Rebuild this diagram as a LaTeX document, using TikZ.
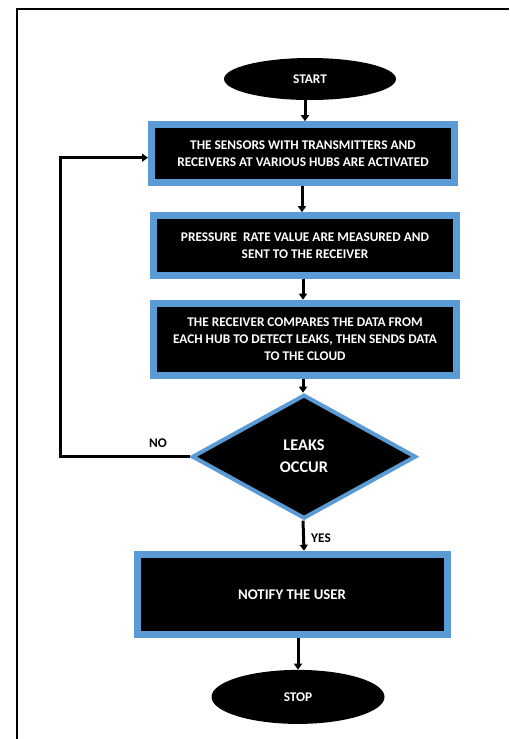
\documentclass[tikz,border=0pt]{standalone}
\usepackage{fontspec}
\setmainfont{Carlito}
\usetikzlibrary{arrows.meta, positioning, shapes.geometric}
\definecolor{hubblue}{RGB}{91,155,213}

\begin{document}
\begin{tikzpicture}[
    x=1pt, y=-1pt,
    font=\fontsize{13.3}{17}\selectfont\bfseries,
    node distance=21pt,
    proc/.style={draw=hubblue, line width=7pt, fill=black, text=white, align=center, minimum width=303pt, inner sep=0pt},
    term/.style={ellipse, fill=black, text=white, inner sep=0pt},
    decide/.style={diamond, draw=hubblue, line width=4pt, fill=black, text=white, align=center, minimum width=224pt, minimum height=124pt, inner sep=0pt},
    arrow/.style={-{Triangle[length=6pt, width=8pt]}, line width=3pt},
    lbl/.style={text=black}
]
  \useasboundingbox (0,0) rectangle (509,739);
  \draw[line width=1.6pt] (17,739) |- (509,9);

  \node[term, minimum width=172pt, minimum height=42pt] (start) at (310,79) {START};
  \node[proc, minimum height=58pt, below=21pt of start, xshift=-7pt] (sensors) {THE SENSORS WITH TRANSMITTERS AND\\RECEIVERS AT VARIOUS HUBS ARE ACTIVATED};
  \node[proc, minimum height=59.5pt, below=26pt of sensors, xshift=2pt] (measure) {PRESSURE\ \ RATE VALUE ARE MEASURED AND\\SENT TO THE RECEIVER};
  \node[proc, minimum height=72pt, below=21pt of measure] (compare) {THE RECEIVER COMPARES THE DATA FROM\\EACH HUB TO DETECT LEAKS, THEN SENDS DATA\\TO THE CLOUD};
  \node[decide, below=14pt of compare, xshift=-1pt, font=\fontsize{16.3}{22}\selectfont\bfseries] (leaks) {LEAKS\\OCCUR};
  \node[proc, minimum width=310pt, minimum height=80pt, below=30pt of leaks, xshift=-12pt, font=\fontsize{14.8}{17}\selectfont\bfseries] (notify) {NOTIFY THE USER};
  \node[term, minimum width=173pt, minimum height=54pt, below=32pt of notify, xshift=6pt] (stop) {STOP};

  \coordinate (back) at (60,0);

  \draw[arrow] ([xshift=-5pt]start.south) -- ([xshift=2pt]sensors.north);
  \draw[arrow] ([xshift=-1pt]sensors.south) -- ([xshift=-3pt]measure.north);
  \draw[arrow] ([xshift=-2pt]measure.south) -- ([xshift=-2pt]compare.north);
  \draw[arrow] ([xshift=-2pt]compare.south) -- ([xshift=-1pt]leaks.north);
  \draw[arrow] ([xshift=-1pt]leaks.south) -- (leaks.south |- notify.north);
  \draw[arrow] (notify.south -| stop.north) -- (stop.north);
  \draw[arrow] (leaks.west) -- (leaks.west -| back) |- ([yshift=-4pt]sensors.west);

  \node[lbl] (no) at (158,443) {NO};
  \node[lbl] (yes) at (321,538) {YES};
\end{tikzpicture}
\end{document}
